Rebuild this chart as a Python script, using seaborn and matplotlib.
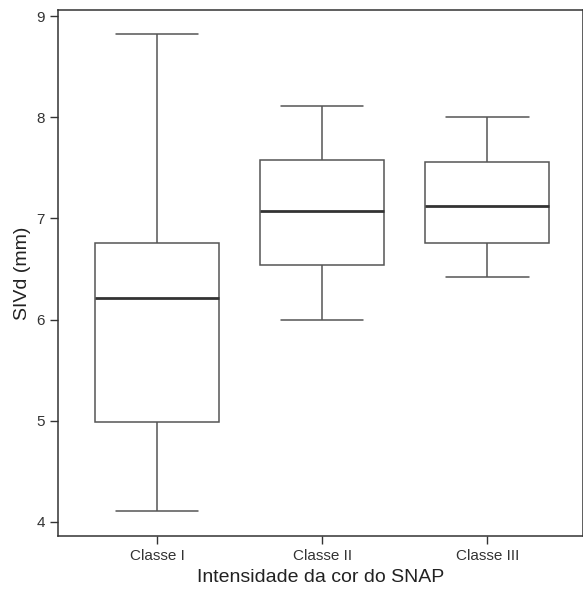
import pandas as pd
import matplotlib
matplotlib.use("Agg")
import matplotlib.pyplot as plt
import seaborn as sns

# Valores: mínimo, Q1, mediana, Q3, máximo por classe
classes = ["Classe I", "Classe II", "Classe III"]
classe_1 = [4.11, 4.99, 6.21, 6.76, 8.82]
classe_2 = [6.00, 6.54, 7.07, 7.58, 8.11]
classe_3 = [6.42, 6.76, 7.12, 7.56, 8.00]

df = pd.DataFrame({
    "classe": [classes[0]] * 5 + [classes[1]] * 5 + [classes[2]] * 5,
    "sivd": classe_1 + classe_2 + classe_3,
})

sns.set_style("ticks")
plt.rcParams["font.family"] = ["Liberation Sans", "DejaVu Sans"]

fig = plt.figure(figsize=(5.83, 5.91), dpi=100)
ax = fig.add_axes([58 / 583, 55 / 591, 525 / 583, 526 / 591])

sns.boxplot(data=df, x="classe", y="sivd", order=classes, ax=ax,
            width=0.75, whis=(0, 100), color="white", linecolor="#555555",
            linewidth=1.1, fill=True, capwidths=0.5,
            medianprops={"color": "#333333", "linewidth": 2})

ax.set_xlim(-0.6, 2.58)
ax.set_ylim(3.86, 9.06)
ax.set_yticks([4, 5, 6, 7, 8, 9])

for s in ax.spines.values():
    s.set_visible(True)
    s.set_color("#333333")
    s.set_linewidth(1.1)

ax.tick_params(axis="both", labelsize=11, length=6, width=1, color="#333333",
               labelcolor="#333333")
ax.set_xlabel("Intensidade da cor do SNAP", fontsize=14, color="#222222")
ax.set_ylabel("SIVd (mm)", fontsize=14, color="#222222")

plt.savefig("out.png", dpi=100)
